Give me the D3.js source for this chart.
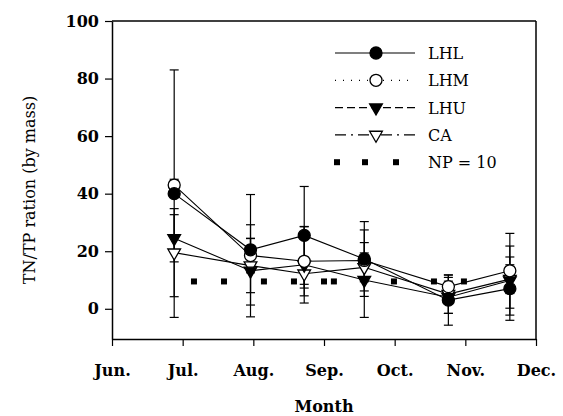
<!DOCTYPE html>
<html>
<head>
<meta charset="utf-8">
<script src="https://cdn.jsdelivr.net/npm/d3@7"></script>
<style>
  body { margin: 0; background: #fff; }
  svg { display: block; font-family: "DejaVu Serif", serif; }
</style>
</head>
<body>
<div id="chart"></div>
<script>
// month labels, Jun = 0 ... Dec = 6
const months = ['Jun.', 'Jul.', 'Aug.', 'Sep.', 'Oct.', 'Nov.', 'Dec.'];
// sampling dates as fractional month index
const sampleX = [0.88, 1.96, 2.72, 3.57, 4.76, 5.63];

const lhl = [40, 20.5, 25.5, 17.3, 3, 7];
const lhlErr = [43, 19.2, 17, 13, 8.7, 11];
const lhm = [43, 18.5, 16.5, 16.8, 7.7, 13.2];
const lhmErr = [2, 6, 12, 10.6, 3.2, 13];
const lhu = [24.5, 13.2, 15.3, 10, 4, 9.8];
const lhuErr = [8.2, 16, 13.3, 13, 5.6, 12];
const ca = [19.5, 15, 12.2, 14.4, 5.1, 10.3];
const caErr = [15.3, 9.4, 5, 5, 6.7, 5];

// NP = 10 reference marks
const npX = [1.16, 1.585, 2.15, 2.575, 3.0, 3.14, 3.99, 4.556, 4.98];
const npY = [9.5, 9.5, 9.5, 9.5, 9.5, 9.5, 9.5, 9.5, 9.5];

const yTicks = [0, 20, 40, 60, 80, 100];

const width = 563, height = 416;
const margin = { top: 21, right: 27, bottom: 77, left: 112 };

const svg = d3.select('#chart').append('svg')
    .attr('width', width)
    .attr('height', height);

const x = d3.scaleLinear().domain([0, 6]).range([margin.left, width - margin.right]);
const y = d3.scaleLinear().domain([-10.5, 100]).range([height - margin.bottom, margin.top]);

const series = [
    { name: 'LHL', v: lhl, e: lhlErr, marker: 'circle', fill: '#000', dash: null },
    { name: 'LHM', v: lhm, e: lhmErr, marker: 'circle', fill: '#fff', dash: '1,7' },
    { name: 'LHU', v: lhu, e: lhuErr, marker: 'tri', fill: '#000', dash: '8,4' },
    { name: 'CA', v: ca, e: caErr, marker: 'tri', fill: '#fff', dash: '11,5,2,5' }
];

// box
const [x0, x1] = x.range();
const [yb, yt] = y.range();
svg.append('line').attr('x1', x0).attr('x2', x1).attr('y1', yt).attr('y2', yt)
    .attr('stroke', '#000').attr('stroke-width', 1.5);
svg.append('line').attr('x1', x1).attr('x2', x1).attr('y1', yt).attr('y2', yb)
    .attr('stroke', '#000').attr('stroke-width', 1.5);

// axes
const yAxis = svg.append('g')
    .attr('transform', `translate(${x0},0)`)
    .call(d3.axisLeft(y).tickValues(yTicks).tickSize(7).tickSizeOuter(0).tickPadding(6));
const xAxis = svg.append('g')
    .attr('transform', `translate(0,${yb})`)
    .call(d3.axisBottom(x).tickValues(d3.range(months.length)).tickFormat(i => months[i])
        .tickSize(7).tickSizeOuter(0).tickPadding(19));

[yAxis, xAxis].forEach(g => {
    g.select('.domain').attr('stroke-width', 1.5);
    g.selectAll('.tick line').attr('stroke-width', 1.2);
    g.selectAll('text').attr('fill', '#000').style('font-size', '16px')
        .style('font-family', '"DejaVu Serif", serif').style('font-weight', 'bold');
});

// axis titles
svg.append('text')
    .attr('x', (x0 + x1) / 2).attr('y', 412)
    .attr('text-anchor', 'middle').style('font-size', '16px').style('font-weight', 'bold')
    .text('Month');
svg.append('text')
    .attr('transform', `translate(35,${(yt + yb) / 2 + 10}) rotate(-90)`)
    .attr('text-anchor', 'middle').style('font-size', '16px')
    .text('TN/TP ration (by mass)');

// NP = 10 squares
svg.selectAll('rect.np')
    .data(npX)
    .join('rect')
    .attr('class', 'np')
    .attr('x', d => x(d) - 3)
    .attr('y', (d, i) => y(npY[i]) - 3)
    .attr('width', 6).attr('height', 6)
    .attr('fill', '#000');

const tri = d3.symbol().type(d3.symbolTriangle).size(70);

function drawMarker(g, s, cx, cy) {
    if (s.marker === 'circle') {
        g.append('circle').attr('cx', cx).attr('cy', cy).attr('r', 6)
            .attr('fill', s.fill).attr('stroke', '#000').attr('stroke-width', 1.3);
    } else {
        g.append('path').attr('d', tri)
            .attr('transform', `translate(${cx},${cy}) rotate(180)`)
            .attr('fill', s.fill).attr('stroke', '#000').attr('stroke-width', 1.3);
    }
}

const line = d3.line().x(d => x(d[0])).y(d => y(d[1]));

// error bars
series.forEach(s => {
    const g = svg.append('g');
    s.v.forEach((v, i) => {
        const cx = x(sampleX[i]);
        const top = y(v + s.e[i]), bot = y(v - s.e[i]);
        g.append('line').attr('x1', cx).attr('x2', cx).attr('y1', top).attr('y2', bot)
            .attr('stroke', '#000').attr('stroke-width', 1.2);
        [top, bot].forEach(yy => g.append('line')
            .attr('x1', cx - 4.5).attr('x2', cx + 4.5).attr('y1', yy).attr('y2', yy)
            .attr('stroke', '#000').attr('stroke-width', 1.2));
    });
});

// lines
series.forEach(s => {
    svg.append('path')
        .datum(s.v.map((v, i) => [sampleX[i], v]))
        .attr('d', line)
        .attr('fill', 'none').attr('stroke', '#000').attr('stroke-width', 1.1);
});

// markers (draw from last to first so LHL sits on top)
series.slice().reverse().forEach(s => {
    const g = svg.append('g');
    s.v.forEach((v, i) => drawMarker(g, s, x(sampleX[i]), y(v)));
});

// legend
const legend = svg.append('g');
const legRows = series.map(s => s.name).concat(['NP = 10']);
legRows.forEach((name, i) => {
    const ly = 53 + i * 27.3;
    const row = legend.append('g');
    if (i < series.length) {
        const s = series[i];
        row.append('line').attr('x1', 335).attr('x2', 415).attr('y1', ly).attr('y2', ly)
            .attr('stroke', '#000').attr('stroke-width', 1.2)
            .attr('stroke-dasharray', s.dash);
        drawMarker(row, s, 376, ly);
    } else {
        [337, 365, 396].forEach(sx => row.append('rect')
            .attr('x', sx - 3).attr('y', ly - 3).attr('width', 6).attr('height', 6)
            .attr('fill', '#000'));
    }
    row.append('text').attr('x', 428).attr('y', ly + 6)
        .style('font-size', '16px').text(name);
});
</script>
</body>
</html>
